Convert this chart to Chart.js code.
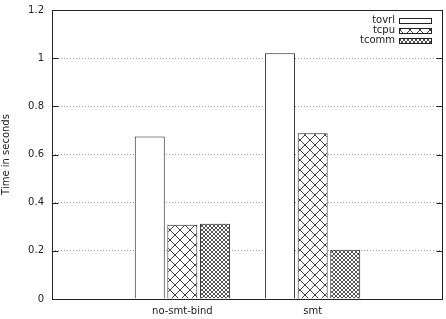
<!DOCTYPE html>
<html><head><meta charset="utf-8">
<script src="https://cdn.jsdelivr.net/npm/chart.js@4/dist/chart.umd.min.js"></script>
<style>html,body{margin:0;padding:0;background:#fff}#wrap{width:446px;height:319px}</style>
</head><body><div id="wrap"><canvas id="c" width="446" height="319"></canvas></div>
<script>
const categories = ["", "no-smt-bind", "smt", ""];
const seriesNames = ["tovrl", "tcpu", "tcomm"];
const tovrl = [null, 0.675, 1.02, null];
const tcpu  = [null, 0.308, 0.688, null];
const tcomm = [null, 0.312, 0.205, null];
const yTicks = [0, 0.2, 0.4, 0.6, 0.8, 1, 1.2];

function makePattern(period, shade) {
  const c = document.createElement('canvas');
  c.width = period; c.height = period;
  const g = c.getContext('2d');
  g.fillStyle = '#fff'; g.fillRect(0,0,period,period);
  g.strokeStyle = shade; g.lineWidth = 1;
  g.beginPath();
  g.moveTo(0,0); g.lineTo(period,period);
  g.moveTo(period,0); g.lineTo(0,period);
  g.stroke();
  return g.createPattern(c, 'repeat');
}
const fills = ['#ffffff', makePattern(10, '#444'), makePattern(4, '#555')];

const frame = {
  id: 'frame',
  afterDraw(chart) {
    const {ctx, chartArea: a, scales: {y}} = chart;
    ctx.save();
    ctx.strokeStyle = '#222'; ctx.lineWidth = 1;
    const L = Math.round(a.left) + 0.5, R = Math.round(a.right) - 0.5;
    const T = Math.round(a.top) + 0.5, B = Math.round(a.bottom) + 0.5;
    ctx.strokeRect(L, T, R - L, B - T);
    ctx.beginPath();
    yTicks.forEach(v => {
      const py = Math.round(y.getPixelForValue(v)) + 0.5;
      ctx.moveTo(L, py); ctx.lineTo(L + 6, py);
      ctx.moveTo(R - 6, py); ctx.lineTo(R, py);
    });
    ctx.stroke();
    // legend
    ctx.font = '10px "DejaVu Sans"';
    ctx.textAlign = 'right'; ctx.textBaseline = 'middle';
    chart.data.datasets.forEach((ds, i) => {
      const cy = 20 + i * 10;
      ctx.fillStyle = '#222';
      ctx.fillText(ds.label, 395, cy);
      ctx.fillStyle = ds.backgroundColor;
      ctx.fillRect(400, Math.round(cy - 2.5), 32, 5);
      ctx.strokeStyle = '#222';
      ctx.strokeRect(399.5, Math.round(cy - 2.5) + 0.5, 32, 5);
    });
    ctx.restore();
  }
};

new Chart(document.getElementById('c'), {
  type: 'bar',
  data: {
    labels: categories,
    datasets: [tovrl, tcpu, tcomm].map((d, i) => ({
      label: seriesNames[i], data: d,
      backgroundColor: fills[i], borderColor: '#222', borderWidth: 1,
      categoryPercentage: 0.75, barPercentage: 0.92
    }))
  },
  options: {
    responsive: false, animation: false,
    layout: {padding: {top: 10, right: 3, left: 0, bottom: 0}},
    plugins: {legend: {display: false}, tooltip: {enabled: false}},
    scales: {
      x: {
        offset: false,
        grid: {display: false, drawTicks: false},
        border: {display: false},
        ticks: {color: '#222', font: {family: 'DejaVu Sans', size: 10}, padding: 6, maxRotation: 0, autoSkip: false},
        afterFit(s) { s.height = 20; s.paddingLeft = 0; s.paddingRight = 0; }
      },
      y: {
        min: 0, max: 1.2,
        afterBuildTicks(s) { s.ticks = yTicks.map(v => ({value: v})); },
        grid: {color: '#9a9a9a', drawTicks: false, lineWidth: 1},
        border: {display: false, dash: [1, 2]},
        ticks: {color: '#222', font: {family: 'DejaVu Sans', size: 10}, padding: 8,
          callback: v => String(Number(v.toFixed(1)))},
        title: {display: true, text: 'Time in seconds', color: '#222', font: {family: 'DejaVu Sans', size: 10}, padding: 0},
        afterFit(s) { s.width = 52; s.paddingTop = 0; s.paddingBottom = 0; }
      }
    }
  },
  plugins: [frame]
});
</script></body></html>
